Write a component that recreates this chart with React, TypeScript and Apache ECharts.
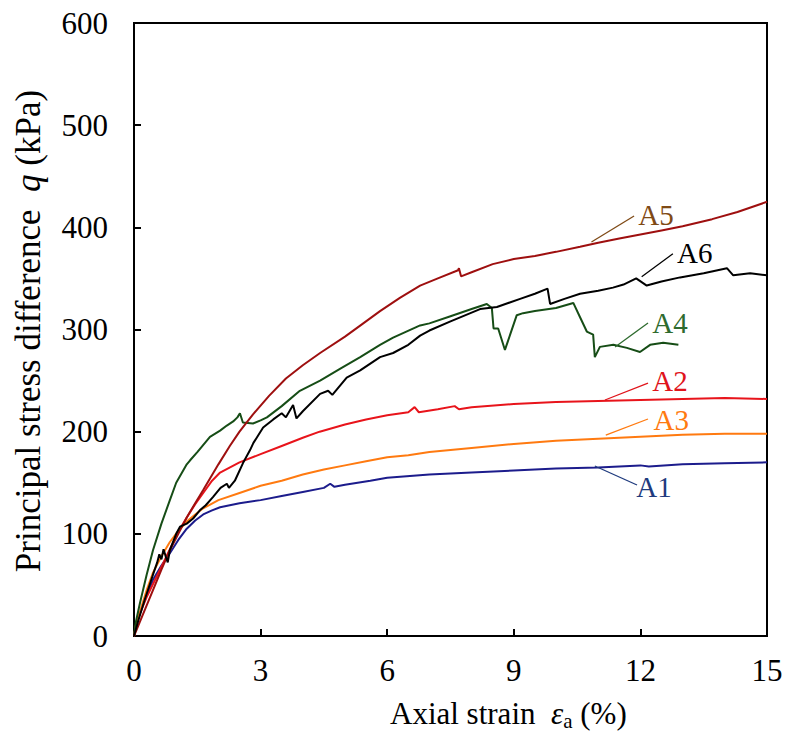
import React, { useEffect, useRef } from "react";
import * as echarts from "echarts";

const xTicks = [0, 3, 6, 9, 12, 15];
const yTicks = [0, 100, 200, 300, 400, 500, 600];

const seriesNames = ["A1", "A2", "A3", "A4", "A5", "A6"];
const lineColors = ["#1c1c8c", "#e8141b", "#ff7a10", "#164d16", "#9e0f0f", "#000000"];
const labelColors = ["#1f3b7e", "#e0141b", "#ff7a10", "#2e6b2e", "#7f4a16", "#000000"];

const A1: number[][] = [
  [0, 0], [0.05, 10], [0.14, 22], [0.3, 40], [0.45, 55], [0.65, 69], [0.85, 81], [1.05, 94],
  [1.25, 105], [1.45, 113], [1.64, 119], [1.85, 123], [2.04, 126], [2.5, 130], [3.0, 133],
  [3.5, 137], [4.0, 141], [4.5, 145], [4.65, 149], [4.75, 146], [5.0, 148], [5.6, 152],
  [6.0, 155], [7.0, 158], [8.0, 160], [9.0, 162], [10.0, 164], [11.0, 165], [12.0, 167],
  [12.2, 166], [13.0, 168], [14.0, 169], [15.0, 170],
];
const A2: number[][] = [
  [0, 0], [0.1, 18], [0.3, 38], [0.5, 55], [0.7, 72], [0.85, 85], [1.05, 102], [1.25, 116],
  [1.45, 129], [1.64, 140], [1.85, 152], [2.04, 160], [2.5, 170], [3.0, 178], [3.5, 186],
  [4.0, 194], [4.4, 200], [5.0, 207], [5.5, 212], [6.0, 216], [6.5, 219], [6.65, 224],
  [6.75, 219], [7.2, 222], [7.6, 225], [7.7, 222], [8.0, 224], [9.0, 227], [10.0, 229],
  [11.0, 230], [12.0, 231], [13.0, 232], [14.0, 233], [15.0, 232],
];
const A3: number[][] = [
  [0, 0], [0.05, 12], [0.15, 25], [0.3, 45], [0.45, 62], [0.65, 78], [0.85, 92], [1.05, 103],
  [1.25, 112], [1.45, 119], [1.64, 125], [2.0, 133], [2.5, 140], [3.0, 147], [3.5, 152],
  [4.0, 158], [4.5, 163], [5.0, 167], [5.5, 171], [6.0, 175], [6.5, 177], [7.0, 180],
  [8.0, 184], [9.0, 188], [10.0, 191], [11.0, 193], [12.0, 195], [13.0, 197], [14.0, 198],
  [15.0, 198],
];
const A4: number[][] = [
  [0, 0], [0.05, 15], [0.14, 32], [0.3, 60], [0.45, 84], [0.65, 110], [0.85, 133], [1.0, 150],
  [1.25, 168], [1.33, 172], [1.5, 180], [1.8, 195], [2.04, 201], [2.2, 206], [2.35, 210],
  [2.45, 214], [2.51, 218], [2.58, 209], [2.82, 208], [3.0, 211], [3.15, 214], [3.5, 225],
  [3.93, 240], [4.41, 250], [4.9, 262], [5.36, 273], [5.83, 285], [6.14, 292], [6.78, 304],
  [7.0, 306], [7.5, 313], [8.0, 320], [8.36, 325], [8.48, 321], [8.52, 301], [8.63, 301],
  [8.79, 280], [9.07, 314], [9.22, 316], [9.5, 318], [10.0, 321], [10.41, 326], [10.57, 312],
  [10.73, 298], [10.88, 295], [10.92, 273], [11.04, 283], [11.36, 285], [11.68, 282],
  [11.99, 278], [12.23, 285], [12.54, 287], [12.9, 285],
];
const A5: number[][] = [
  [0, 0], [0.1, 10], [0.2, 20], [0.45, 45], [0.65, 65], [0.85, 84], [1.05, 100], [1.25, 116],
  [1.45, 130], [1.64, 143], [2.0, 168], [2.27, 186], [2.5, 200], [2.82, 217], [3.2, 235],
  [3.6, 252], [4.0, 265], [4.41, 277], [5.0, 293], [5.4, 305], [5.83, 318], [6.3, 331],
  [6.78, 343], [7.2, 350], [7.68, 358], [7.7, 360], [7.75, 352], [8.0, 356], [8.5, 364],
  [9.0, 369], [9.5, 372], [10.0, 376], [10.57, 381], [11.0, 385], [11.5, 389], [12.0, 393],
  [12.5, 397], [13.0, 401], [13.7, 408], [14.3, 415], [15.0, 425],
];
const A6: number[][] = [
  [0, 0], [0.1, 15], [0.25, 35], [0.45, 60], [0.55, 72], [0.6, 80], [0.65, 75], [0.7, 85],
  [0.75, 78], [0.8, 72], [0.85, 84], [1.0, 100], [1.09, 107], [1.25, 110], [1.4, 115],
  [1.56, 123], [1.7, 128], [1.87, 136], [2.05, 145], [2.2, 149], [2.25, 145], [2.39, 152],
  [2.58, 169], [2.75, 182], [2.83, 189], [3.06, 204], [3.3, 212], [3.5, 218], [3.6, 214],
  [3.77, 226], [3.85, 213], [4.0, 220], [4.41, 237], [4.6, 240], [4.7, 236], [5.04, 253],
  [5.36, 260], [5.83, 273], [6.14, 277], [6.5, 285], [6.78, 294], [7.0, 299], [7.5, 308],
  [8.2, 320], [8.6, 322], [9.15, 330], [9.5, 335], [9.8, 340], [9.86, 325], [10.2, 330],
  [10.57, 335], [11.0, 338], [11.35, 341], [11.6, 344], [11.9, 350], [12.15, 343],
  [12.5, 347], [12.94, 351], [13.5, 355], [14.05, 360], [14.2, 353], [14.6, 355], [15.0, 353],
];
const seriesData = [A1, A2, A3, A4, A5, A6];

// annotation anchors in data units: leader start (on curve), leader end, label centre
const leaderStart: number[][] = [
  [10.92, 166.4], [11.16, 231], [11.18, 196.7], [11.4, 282.9], [10.84, 385.6], [12.03, 351.7],
];
const leaderEnd: number[][] = [
  [11.92, 147.8], [12.18, 247.6], [12.18, 212.4], [12.18, 306.4], [11.85, 411.1], [12.77, 374.1],
];
const labelPos: number[][] = [
  [12.32, 145.8], [12.7, 249.6], [12.73, 211.4], [12.7, 306.4], [12.37, 412], [13.29, 374.9],
];

const FONT = "Liberation Serif";

export default function App() {
  const ref = useRef<HTMLDivElement>(null);
  useEffect(() => {
    if (!ref.current) return;
    const chart = echarts.init(ref.current, undefined, { renderer: "svg" });
    const series = seriesNames.map((name, i) => ({
      name,
      type: "line",
      data: seriesData[i],
      showSymbol: false,
      symbol: "none",
      lineStyle: { color: lineColors[i], width: 2 },
      itemStyle: { color: lineColors[i] },
      z: 3,
      markLine: {
        silent: true,
        symbol: ["none", "none"],
        lineStyle: { color: labelColors[i], width: 1.3, type: "solid" },
        label: { show: false },
        data: [[{ coord: leaderStart[i] }, { coord: leaderEnd[i] }]],
      },
      markPoint: {
        silent: true,
        symbol: "circle",
        symbolSize: 1,
        itemStyle: { color: "rgba(0,0,0,0)" },
        label: {
          show: true,
          position: "inside",
          formatter: name,
          color: labelColors[i],
          fontFamily: FONT,
          fontSize: 29,
        },
        data: [{ coord: labelPos[i] }],
      },
    }));
    chart.setOption({
      animation: false,
      backgroundColor: "#ffffff",
      textStyle: { fontFamily: FONT },
      grid: {
        left: 134,
        right: 21,
        top: 23,
        bottom: 105,
        show: true,
        borderColor: "#000",
        borderWidth: 2,
        backgroundColor: "transparent",
      },
      xAxis: {
        type: "value",
        min: xTicks[0],
        max: xTicks[xTicks.length - 1],
        interval: 3,
        axisLine: { show: true, lineStyle: { color: "#000", width: 2 } },
        axisTick: { show: true, inside: true, length: 7, lineStyle: { color: "#000", width: 2 } },
        splitLine: { show: false },
        axisLabel: { color: "#000", fontFamily: FONT, fontSize: 31, margin: 19 },
      },
      yAxis: {
        type: "value",
        min: yTicks[0],
        max: yTicks[yTicks.length - 1],
        interval: 100,
        axisLine: { show: true, lineStyle: { color: "#000", width: 2 } },
        axisTick: { show: true, inside: true, length: 7, lineStyle: { color: "#000", width: 2 } },
        splitLine: { show: false },
        axisLabel: { color: "#000", fontFamily: FONT, fontSize: 31, margin: 26 },
      },
      graphic: [
        {
          type: "text",
          left: 390,
          top: 698,
          style: {
            text: "Axial strain  {it|ε}{sub|a} (%)",
            fontFamily: FONT,
            fontSize: 31,
            fill: "#000",
            rich: {
              it: { fontStyle: "italic", fontFamily: FONT, fontSize: 31 },
              sub: { fontFamily: FONT, fontSize: 21, padding: [14, 0, 0, 0] },
            },
          },
        },
        {
          type: "text",
          x: 28,
          y: 331,
          rotation: Math.PI / 2,
          style: {
            text: "Principal stress difference  {it|q} (kPa)",
            fontFamily: FONT,
            fontSize: 35,
            fill: "#000",
            align: "center",
            verticalAlign: "middle",
            rich: {
              it: { fontStyle: "italic", fontFamily: FONT, fontSize: 35 },
            },
          },
        },
      ],
      series,
    });
    return () => chart.dispose();
  }, []);
  return (
    <div
      ref={ref}
      style={{ position: "fixed", left: 0, top: 0, width: 788, height: 741, background: "#fff" }}
    />
  );
}
